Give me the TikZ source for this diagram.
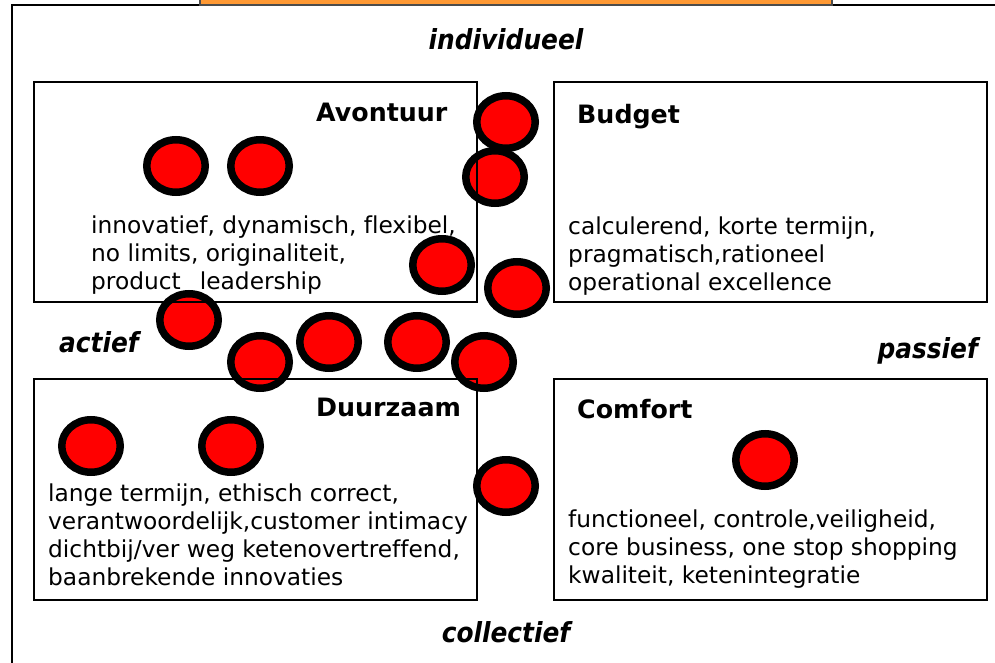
\documentclass[tikz,border=0pt]{standalone}
\usepackage{fontspec}
\setmainfont{DejaVu Sans}[Ligatures=NoCommon]
\newfontfamily\axisfont{DejaVu Sans Condensed}[Ligatures=NoCommon]
\usetikzlibrary{shapes.geometric}
\definecolor{barorange}{RGB}{255,153,51}
\definecolor{dotred}{RGB}{255,0,0}
\begin{document}
\begin{tikzpicture}[x=1pt,y=-1pt,
  dot/.style={ellipse,draw=black,line width=7.5pt,fill=dotred,minimum width=58.5pt,minimum height=52.5pt,inner sep=0pt},
  quad/.style={rectangle,draw=black,line width=1.3pt,inner sep=0pt},
  head/.style={anchor=base west,inner sep=0pt,font=\fontsize{25.3}{30}\selectfont\bfseries},
  body/.style={anchor=base west,inner sep=0pt,font=\fontsize{23.3}{28}\selectfont},
  axis/.style={inner sep=0pt,font=\fontsize{27.6}{32}\selectfont\axisfont\bfseries\itshape}]
\useasboundingbox (0,0) rectangle (995,663);
\fill[white] (0,0) rectangle (995,663);
% outer frame
\draw[line width=1.4pt] (12,663) -- (12,5) -- (995,5);
\node[rectangle,fill=barorange,draw=black!70,line width=1.2pt,minimum width=632pt,minimum height=14pt,inner sep=0pt] (bar) at (516,-2) {};
% dots
\node[dot] (c1) at (506,122) {};
\node[dot] (c4) at (495,177) {};
\node[dot] (c2) at (176,166) {};
\node[dot] (c3) at (260,166) {};
\node[dot] (c5) at (442,265) {};
\node[dot] (c6) at (517,288) {};
\node[dot] (c7) at (189,320) {};
\node[dot] (c8) at (329,342) {};
\node[dot] (c9) at (417,342) {};
\node[dot] (c10) at (260,362) {};
\node[dot] (c11) at (484,362) {};
\node[dot] (c12) at (91,446) {};
\node[dot] (c13) at (231,446) {};
\node[dot] (c14) at (765,460) {};
\node[dot] (c15) at (506,486) {};
% quadrants
\node[quad,minimum width=443pt,minimum height=220pt] (avo) at (255.5,192) {};
\node[quad,minimum width=433pt,minimum height=220pt] (bud) at (770.5,192) {};
\node[quad,minimum width=443pt,minimum height=221pt] (duu) at (255.5,489.5) {};
\node[quad,minimum width=433pt,minimum height=221pt] (com) at (770.5,489.5) {};
% headings
\node[head] (havo) at (316,122) {Avontuur};
\node[head] (hbud) at (577,124) {Budget};
\node[head] (hduu) at (316,416) {Duurzaam};
\node[head] (hcom) at (577,418) {Comfort};
% bodies
\node[body] (a1) at (91,233) {innovatief, dynamisch, flexibel,};
\node[body] (a2) at (91,261) {no limits, originaliteit,};
\node[body] (a3) at (91,289) {product\_ leadership};
\node[body] (b1) at (568,234) {calculerend, korte termijn,};
\node[body] (b2) at (568,262) {pragmatisch,rationeel};
\node[body] (b3) at (568,290) {operational excellence};
\node[body] (d1) at (48,501) {lange termijn, ethisch correct,};
\node[body] (d2) at (48,529) {verantwoordelijk,customer intimacy};
\node[body] (d3) at (48,557) {dichtbij/ver weg ketenovertreffend,};
\node[body] (d4) at (48,585) {baanbrekende innovaties};
\node[body] (e1) at (568,527) {functioneel, controle,veiligheid,};
\node[body] (e2) at (568,555) {core business, one stop shopping};
\node[body] (e3) at (568,583) {kwaliteit, ketenintegratie};
% axis labels
\node[axis,anchor=base] (ind) at (506,50) {individueel};
\node[axis,anchor=base west] (act) at (59,352) {actief};
\node[axis,anchor=base east] (pas) at (978,358) {passief};
\node[axis,anchor=base] (col) at (506,642) {collectief};
\end{tikzpicture}
\end{document}
